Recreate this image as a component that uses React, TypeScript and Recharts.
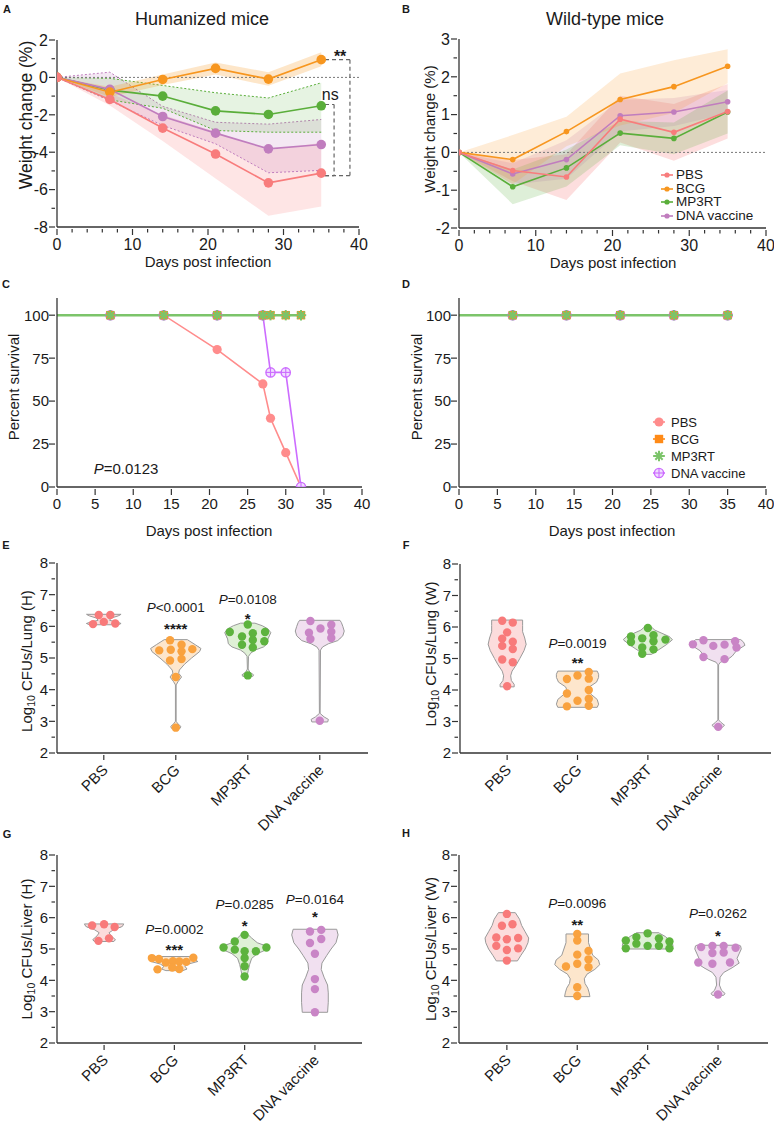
import React from "react";
import { ComposedChart, Line, Area, Scatter, XAxis, YAxis, ReferenceLine } from "recharts";

const FONT = '"Liberation Sans", Arial, Helvetica, sans-serif';
const INK = "#1a1a1a";
const AXIS_LINE = { stroke: "#333", strokeWidth: 1.3 };

// groups
const groups = ["PBS", "BCG", "MP3RT", "DNA vaccine"];
const keys = ["pbs", "bcg", "mp3rt", "dna"];
const lineColors = ["#F87C7C", "#F7961F", "#5AAE3A", "#C07DBE"];
const survColors = ["#FF8C8C", "#FF8A17", "#7CC46A", "#CC6CFF"];
const violinFills = ["#FCDCDC", "#FDE6CC", "#DFF0D6", "#F1E0F0"];
const dotColors = ["#F87A7A", "#F9A23F", "#5DB33E", "#C985C6"];

// A: humanized mice, weight change (%)
const weightDays = [0, 7, 14, 21, 28, 35];
const humPBS = { mean: [0, -1.18, -2.71, -4.1, -5.64, -5.12], lo: [0, -1.5, -3.4, -5.4, -7.4, -6.9], hi: [0, -0.85, -2.0, -2.9, -3.9, -3.5] };
const humBCG = { mean: [0, -0.79, -0.11, 0.48, -0.09, 0.95], lo: [0, -1.05, -0.4, 0.15, -0.45, 0.6], hi: [0, -0.5, 0.15, 0.8, 0.28, 1.35] };
const humMP3RT = { mean: [0, -0.68, -1.0, -1.79, -1.98, -1.52], lo: [0, -1.2, -1.65, -2.84, -2.93, -2.93], hi: [0, -0.05, -0.43, -0.82, -1.1, -0.29] };
const humDNA = { mean: [0, -0.64, -2.09, -2.98, -3.82, -3.59], lo: [0, -1.25, -2.57, -3.55, -5.1, -4.97], hi: [0, 0.28, -1.55, -2.4, -2.5, -2.25] };
const humBrackets = [
  { x0: 35.5, x1: 38.8, top: 0.95, bot: -5.25 },
  { x0: 35.5, x1: 36.7, top: -1.45, bot: -5.25 },
];
const humNotes = [
  { day: 37.5, v: 1.34, text: "**" },
  { day: 36.2, v: -0.98, text: "ns" },
];

// B: wild-type mice, weight change (%)
const wtPBS = { mean: [0, -0.48, -0.65, 0.88, 0.53, 1.08], lo: [0, -0.76, -1.26, 0.26, -0.22, 0.37], hi: [0, -0.2, -0.05, 1.5, 1.28, 1.81] };
const wtBCG = { mean: [0, -0.19, 0.55, 1.4, 1.74, 2.28], lo: [0, -0.84, 0.16, 0.71, 1.04, 1.83], hi: [0, 0.46, 0.94, 2.09, 2.44, 2.73] };
const wtMP3RT = { mean: [0, -0.91, -0.41, 0.51, 0.37, 1.07], lo: [0, -1.37, -0.9, 0.19, -0.05, 0.5], hi: [0, -0.45, 0.08, 0.83, 0.79, 1.64] };
const wtDNA = { mean: [0, -0.57, -0.19, 0.97, 1.07, 1.34], lo: [0, -0.85, -0.7, 0.55, 0.7, 1.03], hi: [0, -0.29, 0.32, 1.39, 1.44, 1.65] };

// C / D: percent survival
const survDaysH = [0, 7, 14, 21, 27, 28, 30, 32];
const survH = [
  [100, 100, 100, 80, 60, 40, 20, 0],
  [100, 100, 100, 100, 100, 100, 100, 100],
  [100, 100, 100, 100, 100, 100, 100, 100],
  [100, 100, 100, 100, 100, 66.7, 66.7, 0],
];
const survDaysW = [0, 7, 14, 21, 28, 35];
const survW = [
  [100, 100, 100, 100, 100, 100],
  [100, 100, 100, 100, 100, 100],
  [100, 100, 100, 100, 100, 100],
  [100, 100, 100, 100, 100, 100],
];
const survNoteH = [{ day: 9.05, v: 11, text: "P=0.0123" }];

// E-H: violins. outline = [log10 value, half width], quart = [q1, median, q3], dots = [x offset, value]
const lungH = [
  { outline: [[6.05, 0.2], [6.09, 0.24], [6.13, 0.19], [6.19, 0.08], [6.26, 0.1], [6.33, 0.2], [6.38, 0.24]], quart: [6.09, 6.14, 6.36],
    dots: [[-0.07, 6.36], [0.09, 6.36], [-0.15, 6.07], [0, 6.14], [0.16, 6.09]] },
  { outline: [[2.78, 0.06], [2.84, 0.07], [2.92, 0.03], [3.0, 0.005], [4.15, 0.005], [4.25, 0.03], [4.4, 0.08], [4.52, 0.04], [4.62, 0.05], [4.8, 0.12], [5.0, 0.22], [5.2, 0.33], [5.3, 0.35], [5.42, 0.27], [5.58, 0.16]], quart: [4.77, 5.24, 5.35],
    dots: [[-0.08, 5.56], [0.08, 5.42], [-0.23, 5.24], [-0.07, 5.26], [0.08, 5.21], [0.23, 5.28], [-0.08, 4.92], [0.08, 4.97], [0, 4.4], [0, 2.8]] },
  { outline: [[4.42, 0.07], [4.47, 0.08], [4.55, 0.03], [4.65, 0.005], [5.05, 0.01], [5.15, 0.04], [5.25, 0.1], [5.35, 0.22], [5.45, 0.27], [5.6, 0.28], [5.8, 0.32], [5.92, 0.28], [6.02, 0.2], [6.1, 0.1]], quart: [5.42, 5.66, 5.84],
    dots: [[0, 6.06], [-0.25, 5.82], [0.24, 5.82], [-0.08, 5.68], [0.07, 5.78], [0.07, 5.57], [0.23, 5.53], [-0.08, 5.42], [0.07, 5.33], [0, 4.45]] },
  { outline: [[2.98, 0.11], [3.06, 0.12], [3.14, 0.06], [3.25, 0.005], [5.25, 0.01], [5.35, 0.04], [5.45, 0.12], [5.55, 0.25], [5.7, 0.32], [5.85, 0.34], [6.0, 0.32], [6.12, 0.3], [6.19, 0.28]], quart: [5.63, 5.84, 6.03],
    dots: [[-0.13, 6.17], [0.16, 6.05], [0.01, 5.93], [-0.15, 5.8], [0.16, 5.83], [-0.13, 5.6], [0.16, 5.63], [0, 3.02]] },
];
const lungHNotes = [
  { x: 1, y: 6.61, text: "P<0.0001" }, { x: 1, y: 6.04, text: "****" },
  { x: 2, y: 6.86, text: "P=0.0108" }, { x: 2, y: 6.36, text: "*" },
];

const lungW = [
  { outline: [[4.1, 0.1], [4.18, 0.1], [4.3, 0.06], [4.45, 0.05], [4.6, 0.07], [4.8, 0.13], [5.0, 0.18], [5.25, 0.24], [5.45, 0.27], [5.65, 0.25], [5.85, 0.22], [6.05, 0.22], [6.22, 0.22]], quart: [4.95, 5.45, 5.88],
    dots: [[-0.07, 6.2], [0.08, 6.14], [0, 5.83], [-0.07, 5.63], [0.08, 5.53], [-0.07, 5.4], [0.08, 5.3], [-0.07, 4.97], [0.08, 4.88], [0, 4.12]] },
  { outline: [[3.45, 0.28], [3.55, 0.3], [3.7, 0.28], [3.85, 0.2], [4.0, 0.15], [4.1, 0.17], [4.25, 0.27], [4.4, 0.3], [4.5, 0.3], [4.6, 0.28]], quart: [3.62, 3.94, 4.36],
    dots: [[-0.15, 4.35], [0, 4.46], [0.16, 4.57], [0.16, 4.36], [-0.15, 3.89], [0.16, 4.0], [0, 3.66], [0.16, 3.72], [-0.15, 3.48], [0.16, 3.5]] },
  { outline: [[5.13, 0.05], [5.2, 0.1], [5.3, 0.17], [5.45, 0.27], [5.6, 0.35], [5.7, 0.3], [5.8, 0.2], [5.9, 0.1], [5.98, 0.06]], quart: [5.39, 5.56, 5.69],
    dots: [[0, 5.97], [-0.24, 5.7], [0.08, 5.74], [-0.08, 5.64], [0.25, 5.6], [-0.24, 5.52], [0.08, 5.55], [-0.08, 5.35], [0.08, 5.29], [-0.08, 5.15]] },
  { outline: [[2.8, 0.05], [2.88, 0.09], [2.97, 0.04], [3.05, 0.005], [4.8, 0.005], [4.88, 0.03], [4.98, 0.14], [5.08, 0.2], [5.25, 0.26], [5.42, 0.38], [5.52, 0.36], [5.6, 0.32]], quart: [5.05, 5.35, 5.45],
    dots: [[-0.21, 5.58], [0.24, 5.55], [-0.36, 5.45], [-0.07, 5.4], [0.09, 5.44], [0.26, 5.35], [-0.21, 5.05], [0.09, 4.98], [0, 2.83]] },
];
const lungWNotes = [{ x: 1, y: 5.49, text: "P=0.0019" }, { x: 1, y: 4.98, text: "**" }];

const liverH = [
  { outline: [[5.24, 0.14], [5.3, 0.16], [5.42, 0.1], [5.52, 0.07], [5.62, 0.14], [5.72, 0.26], [5.8, 0.28]], quart: [5.3, 5.7, 5.77],
    dots: [[-0.17, 5.75], [0, 5.79], [0.15, 5.7], [-0.08, 5.26], [0.07, 5.34]] },
  { outline: [[4.31, 0.12], [4.36, 0.18], [4.45, 0.15], [4.52, 0.2], [4.6, 0.33], [4.68, 0.3], [4.76, 0.28]], quart: [4.4, 4.6, 4.7],
    dots: [[-0.32, 4.71], [-0.22, 4.68], [-0.12, 4.57], [-0.02, 4.61], [0.07, 4.6], [0.17, 4.59], [0.27, 4.72], [-0.24, 4.35], [-0.03, 4.41], [0.07, 4.36]] },
  { outline: [[4.1, 0.03], [4.3, 0.05], [4.5, 0.07], [4.7, 0.1], [4.85, 0.18], [5.0, 0.33], [5.1, 0.3], [5.2, 0.18], [5.35, 0.1], [5.46, 0.05]], quart: [4.7, 4.97, 5.13],
    dots: [[0, 5.45], [-0.14, 5.24], [-0.3, 5.05], [-0.14, 4.98], [0.16, 4.93], [0.31, 5.05], [0, 4.93], [0, 4.71], [0, 4.45], [0, 4.12]] },
  { outline: [[2.98, 0.18], [3.3, 0.19], [3.6, 0.19], [3.85, 0.18], [4.1, 0.13], [4.35, 0.09], [4.55, 0.1], [4.8, 0.17], [5.0, 0.23], [5.2, 0.3], [5.45, 0.33], [5.63, 0.31]], quart: [3.83, 5.03, 5.5],
    dots: [[-0.07, 5.56], [0.09, 5.61], [-0.07, 5.19], [0.09, 5.32], [0, 4.85], [0, 4.04], [0, 3.72], [0, 2.98]] },
];
const liverHNotes = [
  { x: 1, y: 5.64, text: "P=0.0002" }, { x: 1, y: 5.1, text: "***" },
  { x: 2, y: 6.44, text: "P=0.0285" }, { x: 2, y: 5.86, text: "*" },
  { x: 3, y: 6.6, text: "P=0.0164" }, { x: 3, y: 6.15, text: "*" },
];

const liverW = [
  { outline: [[4.62, 0.15], [4.8, 0.2], [5.0, 0.26], [5.2, 0.3], [5.35, 0.31], [5.55, 0.26], [5.75, 0.21], [5.95, 0.18], [6.16, 0.12]], quart: [5.02, 5.32, 5.7],
    dots: [[0, 6.12], [-0.07, 5.74], [0.08, 5.79], [-0.15, 5.37], [0, 5.31], [0.16, 5.35], [-0.15, 5.1], [0, 4.97], [0.16, 5.02], [0, 4.63]] },
  { outline: [[3.48, 0.18], [3.6, 0.17], [3.75, 0.15], [3.9, 0.11], [4.05, 0.1], [4.2, 0.14], [4.35, 0.25], [4.5, 0.32], [4.65, 0.3], [4.8, 0.22], [5.0, 0.19], [5.2, 0.16], [5.48, 0.16]], quart: [4.23, 4.55, 5.03],
    dots: [[0, 5.48], [0, 5.27], [0.16, 4.94], [0, 4.82], [-0.16, 4.44], [0, 4.53], [0.16, 4.42], [0.16, 4.67], [0, 3.78], [0, 3.5]] },
  { outline: [[5.0, 0.35], [5.1, 0.36], [5.2, 0.35], [5.3, 0.3], [5.4, 0.25], [5.5, 0.17], [5.52, 0.16]], quart: [5.07, 5.14, 5.31],
    dots: [[-0.31, 5.27], [-0.16, 5.38], [0, 5.5], [0.16, 5.34], [0.31, 5.24], [-0.31, 5.02], [-0.16, 5.17], [0, 5.1], [0.16, 5.1], [0.31, 5.02]] },
  { outline: [[3.52, 0.08], [3.58, 0.1], [3.68, 0.05], [3.85, 0.02], [4.1, 0.03], [4.25, 0.08], [4.4, 0.2], [4.55, 0.3], [4.7, 0.27], [4.85, 0.3], [5.0, 0.33], [5.1, 0.32], [5.12, 0.3]], quart: [4.55, 4.88, 5.06],
    dots: [[-0.24, 5.06], [-0.08, 5.1], [0.08, 5.1], [0.25, 5.04], [-0.08, 4.87], [0.08, 4.89], [-0.28, 4.57], [-0.08, 4.53], [0.17, 4.57], [0, 3.55]] },
];
const liverWNotes = [
  { x: 1, y: 6.47, text: "P=0.0096" }, { x: 1, y: 5.89, text: "**" },
  { x: 3, y: 6.15, text: "P=0.0262" }, { x: 3, y: 5.54, text: "*" },
];

// ticks
const dayTicks = [0, 2, 4, 6, 8, 10, 12, 14, 16, 18, 20, 22, 24, 26, 28, 30, 32, 34, 36, 38, 40];
const dayMajors = [0, 10, 20, 30, 40];
const humTicks = [-8, -7, -6, -5, -4, -3, -2, -1, 0, 1, 2];
const humMajors = [-8, -6, -4, -2, 0, 2];
const wtTicks = [-2, -1.5, -1, -0.5, 0, 0.5, 1, 1.5, 2, 2.5, 3];
const wtMajors = [-2, -1, 0, 1, 2, 3];
const survXTicks = [0, 5, 10, 15, 20, 25, 30, 35, 40];
const survYTicks = [0, 25, 50, 75, 100];
const cfuTicks = [2, 2.5, 3, 3.5, 4, 4.5, 5, 5.5, 6, 6.5, 7, 7.5, 8];
const cfuMajors = [2, 3, 4, 5, 6, 7, 8];

// helpers
function dims(box: any, plot: any) {
  return {
    margin: { top: plot.t - box.y, right: box.x + box.w - plot.r, bottom: 0, left: 0 },
    xh: box.y + box.h - plot.b,
    yw: plot.l - box.x,
  };
}

function bottomTick(majors: number[], fs: number, dy: number) {
  return (p: any) => {
    const v = p.payload.value;
    const big = majors.includes(v);
    return (
      <g>
        <line x1={p.x} x2={p.x} y1={p.y} y2={p.y + (big ? 6 : 3.5)} stroke="#333" strokeWidth={1.2} />
        {big && (
          <text x={p.x} y={p.y + dy} textAnchor="middle" fontSize={fs} fontFamily={FONT} fill={INK}>
            {String(v)}
          </text>
        )}
      </g>
    );
  };
}

function leftTick(majors: number[], fs: number, dx: number) {
  return (p: any) => {
    const v = p.payload.value;
    const big = majors.includes(v);
    return (
      <g>
        <line x1={p.x} x2={p.x - (big ? 6 : 3.5)} y1={p.y} y2={p.y} stroke="#333" strokeWidth={1.2} />
        {big && (
          <text x={p.x - dx} y={p.y + fs * 0.36} textAnchor="end" fontSize={fs} fontFamily={FONT} fill={INK}>
            {String(v)}
          </text>
        )}
      </g>
    );
  };
}

const catTick = (p: any) => (
  <g>
    <line x1={p.x} x2={p.x} y1={p.y} y2={p.y + 5} stroke="#333" strokeWidth={1.2} />
    <text
      x={p.x + 5}
      y={p.y + 16}
      transform={`rotate(-45 ${p.x + 5} ${p.y + 16})`}
      textAnchor="end"
      fontSize={15}
      fontFamily={FONT}
      fill={INK}
    >
      {groups[p.payload.value]}
    </text>
  </g>
);

function frameAxes(xDomain: number[], yDomain: number[], topTicks?: number[], rightTicks?: number[]) {
  return [
    <XAxis
      key="fx"
      xAxisId="top"
      orientation="top"
      type="number"
      domain={xDomain}
      allowDataOverflow
      height={0}
      ticks={topTicks}
      interval={0}
      tickSize={topTicks ? 3.5 : 0}
      tickLine={topTicks ? { stroke: "#333" } : false}
      tick={topTicks ? { fontSize: 1 } : false}
      tickFormatter={() => ""}
      axisLine={AXIS_LINE}
    />,
    <YAxis
      key="fy"
      yAxisId="right"
      orientation="right"
      type="number"
      domain={yDomain}
      allowDataOverflow
      width={0}
      mirror
      ticks={rightTicks}
      interval={0}
      tickSize={rightTicks ? 3.5 : 0}
      tickLine={rightTicks ? { stroke: "#333" } : false}
      tick={rightTicks ? { fontSize: 1 } : false}
      tickFormatter={() => ""}
      axisLine={AXIS_LINE}
    />,
  ];
}

function weightRows(sets: any[]) {
  return weightDays.map((d, i) => {
    const row: any = { day: d };
    sets.forEach((s, g) => {
      row[keys[g]] = s.mean[i];
      row[keys[g] + "Band"] = [s.lo[i], s.hi[i]];
    });
    return row;
  });
}

function survRows(days: number[], sets: number[][]) {
  return days.map((d, i) => {
    const row: any = { day: d };
    sets.forEach((s, g) => (row[keys[g]] = s[i]));
    return row;
  });
}

const noteShape = (fs: number, starFs: number) => (p: any) => {
  const t: string = p.payload.text;
  if (t.startsWith("P")) {
    return (
      <text x={p.cx} y={p.cy + fs * 0.36} textAnchor="middle" fontSize={fs} fontFamily={FONT} fill={INK}>
        <tspan fontStyle="italic">P</tspan>
        {t.slice(1)}
      </text>
    );
  }
  if (t === "ns") {
    return (
      <text x={p.cx} y={p.cy + 16 * 0.27} textAnchor="middle" fontSize={16} fontFamily={FONT} fill={INK}>
        {t}
      </text>
    );
  }
  return (
    <text x={p.cx} y={p.cy + starFs * 0.6} textAnchor="middle" fontSize={starFs} fontWeight="bold" fontFamily={FONT} fill={INK}>
      {t}
    </text>
  );
};

const blank = () => <g />;

// ---------- A / B ----------
function WeightPanel({ box, plot, sets, yDomain, yTicks, yMajors, fs, dotR, bandOps, dotted, extra }: any) {
  const { margin, xh, yw } = dims(box, plot);
  const rows = weightRows(sets);
  const bandOrder = [0, 3, 2, 1];
  const lineOrder = [2, 3, 1, 0];
  return (
    <div style={{ position: "absolute", left: box.x, top: box.y }}>
      <ComposedChart width={box.w} height={box.h} data={rows} margin={margin}>
        <XAxis dataKey="day" type="number" domain={[0, 40]} allowDataOverflow ticks={dayTicks} interval={0} tickSize={0}
          tickLine={false} tick={bottomTick(dayMajors, fs, 21)} axisLine={AXIS_LINE} height={xh} />
        <YAxis type="number" domain={yDomain} allowDataOverflow ticks={yTicks} interval={0} tickSize={0}
          tickLine={false} tick={leftTick(yMajors, fs, 7)} axisLine={AXIS_LINE} width={yw} />
        {frameAxes([0, 40], yDomain, dayTicks, yTicks)}
        {bandOrder.map((g) => (
          <Area key={"b" + g} type="linear" dataKey={keys[g] + "Band"} fill={lineColors[g]} fillOpacity={bandOps[g]}
            stroke={dotted[g] ? lineColors[g] : "none"} strokeDasharray="2 2" strokeWidth={1}
            activeDot={false} isAnimationActive={false} />
        ))}
        <ReferenceLine y={0} stroke="#777" strokeDasharray="2 2" strokeWidth={1} />
        {lineOrder.map((g) => (
          <Line key={"l" + g} type="linear" dataKey={keys[g]} stroke={lineColors[g]} strokeWidth={1.6}
            dot={{ r: dotR, fill: lineColors[g], stroke: lineColors[g], strokeWidth: 0 }} activeDot={false}
            isAnimationActive={false} />
        ))}
        {extra}
      </ComposedChart>
    </div>
  );
}

function PanelA() {
  const bracketLines = humBrackets.flatMap((b, i) => [
    <ReferenceLine key={"t" + i} segment={[{ x: b.x0, y: b.top }, { x: b.x1, y: b.top }]} stroke="#666" strokeDasharray="4 3" strokeWidth={1.2} />,
    <ReferenceLine key={"v" + i} segment={[{ x: b.x1, y: b.top }, { x: b.x1, y: b.bot }]} stroke="#666" strokeDasharray="4 3" strokeWidth={1.2} />,
    <ReferenceLine key={"b" + i} segment={[{ x: b.x0, y: b.bot }, { x: b.x1, y: b.bot }]} stroke="#666" strokeDasharray="4 3" strokeWidth={1.2} />,
  ]);
  return (
    <WeightPanel
      box={{ x: 0, y: 0, w: 387, h: 275 }}
      plot={{ l: 57, t: 40, r: 359, b: 227 }}
      sets={[humPBS, humBCG, humMP3RT, humDNA]}
      yDomain={[-8, 2]}
      yTicks={humTicks}
      yMajors={humMajors}
      fs={16}
      dotR={4.8}
      bandOps={[0.2, 0.24, 0.15, 0.18]}
      dotted={[false, false, true, true]}
      extra={[
        ...bracketLines,
        <Scatter key="notes" data={humNotes} dataKey="v" shape={noteShape(15, 16)} isAnimationActive={false} />,
      ]}
    />
  );
}

function PanelB() {
  return (
    <WeightPanel
      box={{ x: 387, y: 0, w: 387, h: 275 }}
      plot={{ l: 459, t: 39, r: 766, b: 228 }}
      sets={[wtPBS, wtBCG, wtMP3RT, wtDNA]}
      yDomain={[-2, 3]}
      yTicks={wtTicks}
      yMajors={wtMajors}
      fs={16}
      dotR={2.8}
      bandOps={[0.25, 0.18, 0.2, 0.2]}
      dotted={[false, false, false, false]}
      extra={[]}
    />
  );
}

// ---------- C / D ----------
const kinds = ["circle", "square", "star", "ring"];
function Marker({ kind, cx, cy, color }: any) {
  if (kind === "circle") return <circle cx={cx} cy={cy} r={4.6} fill={color} />;
  if (kind === "square") return <rect x={cx - 4.2} y={cy - 4.2} width={8.4} height={8.4} fill={color} />;
  if (kind === "star") {
    const r = 5.2;
    const d = r * 0.707;
    return (
      <g stroke={color} strokeWidth={2}>
        <line x1={cx - r} x2={cx + r} y1={cy} y2={cy} />
        <line x1={cx} x2={cx} y1={cy - r} y2={cy + r} />
        <line x1={cx - d} y1={cy - d} x2={cx + d} y2={cy + d} />
        <line x1={cx - d} y1={cy + d} x2={cx + d} y2={cy - d} />
      </g>
    );
  }
  return (
    <g>
      <circle cx={cx} cy={cy} r={4.6} fill="#F0DDFF" stroke={color} strokeWidth={1.4} />
      <line x1={cx - 4.6} x2={cx + 4.6} y1={cy} y2={cy} stroke={color} strokeWidth={1.1} />
      <line x1={cx} x2={cx} y1={cy - 4.6} y2={cy + 4.6} stroke={color} strokeWidth={1.1} />
    </g>
  );
}

const survDot = (g: number) => (p: any) => {
  const k = `d${g}-${p.index}`;
  if (p.payload.day === 0) return <g key={k} />;
  return (
    <g key={k}>
      <Marker kind={kinds[g]} cx={p.cx} cy={p.cy} color={survColors[g]} />
    </g>
  );
};

function SurvivalPanel({ box, plot, rows, notes }: any) {
  const { margin, xh, yw } = dims(box, plot);
  const order = [0, 3, 1, 2];
  return (
    <div style={{ position: "absolute", left: box.x, top: box.y }}>
      <ComposedChart width={box.w} height={box.h} data={rows} margin={margin}>
        <XAxis dataKey="day" type="number" domain={[0, 40]} allowDataOverflow ticks={survXTicks} interval={0} tickSize={0}
          tickLine={false} tick={bottomTick(survXTicks, 15, 20)} axisLine={AXIS_LINE} height={xh} />
        <YAxis type="number" domain={[0, 110]} allowDataOverflow ticks={survYTicks} interval={0} tickSize={0}
          tickLine={false} tick={leftTick(survYTicks, 15, 6)} axisLine={AXIS_LINE} width={yw} />
        {frameAxes([0, 40], [0, 110], survXTicks, survYTicks)}
        {order.map((g) => (
          <Line key={"s" + g} type="linear" dataKey={keys[g]} stroke={survColors[g]} strokeWidth={g === 2 ? 2.4 : 1.6}
            dot={survDot(g)} activeDot={false} isAnimationActive={false} />
        ))}
        {notes && <Scatter data={notes} dataKey="v" shape={noteShape(15, 15)} isAnimationActive={false} />}
      </ComposedChart>
    </div>
  );
}

// ---------- E-H ----------
function outlinePoints(i: number, outline: number[][]) {
  const right = outline.map(([v, w]) => ({ x: i + w, y: v }));
  const left = [...outline].reverse().map(([v, w]) => ({ x: i - w, y: v }));
  return [...right, ...left];
}

function widthAt(outline: number[][], q: number) {
  for (let k = 0; k < outline.length - 1; k++) {
    const [v0, w0] = outline[k];
    const [v1, w1] = outline[k + 1];
    if (q >= v0 && q <= v1) return w0 + ((w1 - w0) * (q - v0)) / (v1 - v0);
  }
  return q < outline[0][0] ? outline[0][1] : outline[outline.length - 1][1];
}

const violinLine = (g: number) => (lp: any) => {
  const pts = lp.points || [];
  const d = pts.map((p: any, k: number) => `${k ? "L" : "M"}${p.x},${p.y}`).join(" ") + " Z";
  return <path d={d} fill={violinFills[g]} stroke="#9a9a9a" strokeWidth={1} />;
};

const dotShape = (g: number) => (p: any) => <circle cx={p.cx} cy={p.cy} r={4.2} fill={dotColors[g]} />;

function ViolinPanel({ box, plot, xDomain, sets, notes }: any) {
  const { margin, xh, yw } = dims(box, plot);
  return (
    <div style={{ position: "absolute", left: box.x, top: box.y }}>
      <ComposedChart width={box.w} height={box.h} margin={margin}>
        <XAxis dataKey="x" type="number" domain={xDomain} allowDataOverflow ticks={[0, 1, 2, 3]} interval={0} tickSize={0}
          tickLine={false} tick={catTick} axisLine={AXIS_LINE} height={xh} />
        <YAxis dataKey="y" type="number" domain={[2, 8]} allowDataOverflow ticks={cfuTicks} interval={0} tickSize={0}
          tickLine={false} tick={leftTick(cfuMajors, 15, 7)} axisLine={AXIS_LINE} width={yw} />
        {frameAxes(xDomain, [2, 8])}
        {sets.map((v: any, g: number) => (
          <Scatter key={"v" + g} data={outlinePoints(g, v.outline)} line={violinLine(g)} shape={blank} isAnimationActive={false} />
        ))}
        {sets.flatMap((v: any, g: number) =>
          v.quart.map((q: number, k: number) => {
            const w = widthAt(v.outline, q);
            return (
              <ReferenceLine key={`q${g}-${k}`} segment={[{ x: g - w, y: q }, { x: g + w, y: q }]}
                stroke={k === 1 ? "#555" : "#9a9a9a"} strokeDasharray="3 2" strokeWidth={1} />
            );
          })
        )}
        {sets.map((v: any, g: number) => (
          <Scatter key={"d" + g} data={v.dots.map(([o, y]: number[]) => ({ x: g + o, y }))} shape={dotShape(g)}
            isAnimationActive={false} />
        ))}
        <Scatter data={notes} shape={noteShape(13.5, 15)} isAnimationActive={false} />
      </ComposedChart>
    </div>
  );
}

// ---------- text overlay ----------
function Txt({ x, y, fs, children, rot = 0, align = "center", weight = 400 }: any) {
  const tx = align === "center" ? "-50%" : align === "left" ? "0%" : "-100%";
  return (
    <div
      style={{
        position: "absolute",
        left: x,
        top: y,
        transform: `translate(${tx}, -50%) rotate(${rot}deg)`,
        fontSize: fs,
        lineHeight: 1,
        fontFamily: FONT,
        fontWeight: weight,
        color: INK,
        whiteSpace: "nowrap",
      }}
    >
      {children}
    </div>
  );
}

function LegendRows({ iconX, textX, ys, fs, kind }: any) {
  return (
    <>
      {groups.map((name, g) => (
        <React.Fragment key={name}>
          <svg style={{ position: "absolute", left: iconX - 8, top: ys[g] - 6 }} width={16} height={12}>
            {kind === "line" ? (
              <>
                <line x1={2} x2={14} y1={6} y2={6} stroke={lineColors[g]} strokeWidth={1.6} />
                <circle cx={8} cy={6} r={2.6} fill={lineColors[g]} />
              </>
            ) : (
              <>
                <line x1={2} x2={14} y1={6} y2={6} stroke={survColors[g]} strokeWidth={1.6} />
                <Marker kind={kinds[g]} cx={8} cy={6} color={survColors[g]} />
              </>
            )}
          </svg>
          <Txt x={textX} y={ys[g]} fs={fs} align="left">
            {name}
          </Txt>
        </React.Fragment>
      ))}
    </>
  );
}

const Log10 = ({ tail }: any) => (
  <span>
    Log<span style={{ fontSize: "0.7em", verticalAlign: "-0.25em" }}>10</span> {tail}
  </span>
);

export default function App() {
  const letters: any[] = [["A", 7, 8.5], ["B", 406, 8.5], ["C", 6, 284], ["D", 406, 284], ["E", 6, 545], ["F", 406, 545], ["G", 7, 834], ["H", 406, 833]];
  return (
    <div style={{ position: "absolute", left: 0, top: 0, width: 774, height: 1124, background: "#fff", overflow: "hidden" }}>
      <PanelA />
      <PanelB />
      <SurvivalPanel box={{ x: 0, y: 275, w: 387, h: 265 }} plot={{ l: 57, t: 298, r: 362, b: 487 }}
        rows={survRows(survDaysH, survH)} notes={survNoteH} />
      <SurvivalPanel box={{ x: 387, y: 275, w: 387, h: 265 }} plot={{ l: 459, t: 298, r: 766, b: 487 }}
        rows={survRows(survDaysW, survW)} />
      <ViolinPanel box={{ x: 0, y: 545, w: 387, h: 300 }} plot={{ l: 57, t: 563, r: 368, b: 753 }}
        xDomain={[-0.65, 3.67]} sets={lungH} notes={lungHNotes} />
      <ViolinPanel box={{ x: 387, y: 545, w: 387, h: 300 }} plot={{ l: 460, t: 564, r: 771, b: 753 }}
        xDomain={[-0.67, 3.75]} sets={lungW} notes={lungWNotes} />
      <ViolinPanel box={{ x: 0, y: 835, w: 387, h: 289 }} plot={{ l: 57, t: 855, r: 362, b: 1043 }}
        xDomain={[-0.67, 3.67]} sets={liverH} notes={liverHNotes} />
      <ViolinPanel box={{ x: 387, y: 835, w: 387, h: 289 }} plot={{ l: 459, t: 855, r: 768, b: 1043 }}
        xDomain={[-0.68, 3.71]} sets={liverW} notes={liverWNotes} />

      {letters.map(([t, x, y]) => (
        <Txt key={t} x={x} y={y} fs={11} weight={700}>{t}</Txt>
      ))}
      <Txt x={202} y={19} fs={18}>Humanized mice</Txt>
      <Txt x={605} y={19} fs={18}>Wild-type mice</Txt>
      <Txt x={27} y={115} fs={17.5} rot={-90}>Weight change (%)</Txt>
      <Txt x={429} y={129} fs={15} rot={-90}>Weight change (%)</Txt>
      <Txt x={208} y={261} fs={15}>Days post infection</Txt>
      <Txt x={613} y={262} fs={15}>Days post infection</Txt>
      <Txt x={13} y={387} fs={15} rot={-90}>Percent survival</Txt>
      <Txt x={416} y={387} fs={15} rot={-90}>Percent survival</Txt>
      <Txt x={209} y={530} fs={15}>Days post infection</Txt>
      <Txt x={612} y={530} fs={15}>Days post infection</Txt>
      <Txt x={28} y={661} fs={15} rot={-90}><Log10 tail="CFUs/Lung (H)" /></Txt>
      <Txt x={432} y={654} fs={15} rot={-90}><Log10 tail="CFUs/Lung (W)" /></Txt>
      <Txt x={28} y={949} fs={15} rot={-90}><Log10 tail="CFUs/Liver (H)" /></Txt>
      <Txt x={432} y={949} fs={15} rot={-90}><Log10 tail="CFUs/Liver (W)" /></Txt>

      <LegendRows iconX={667} textX={676} ys={[175, 189, 202, 216]} fs={13.5} kind="line" />
      <LegendRows iconX={659} textX={671} ys={[422, 439, 456, 473]} fs={13} kind="marker" />
    </div>
  );
}
